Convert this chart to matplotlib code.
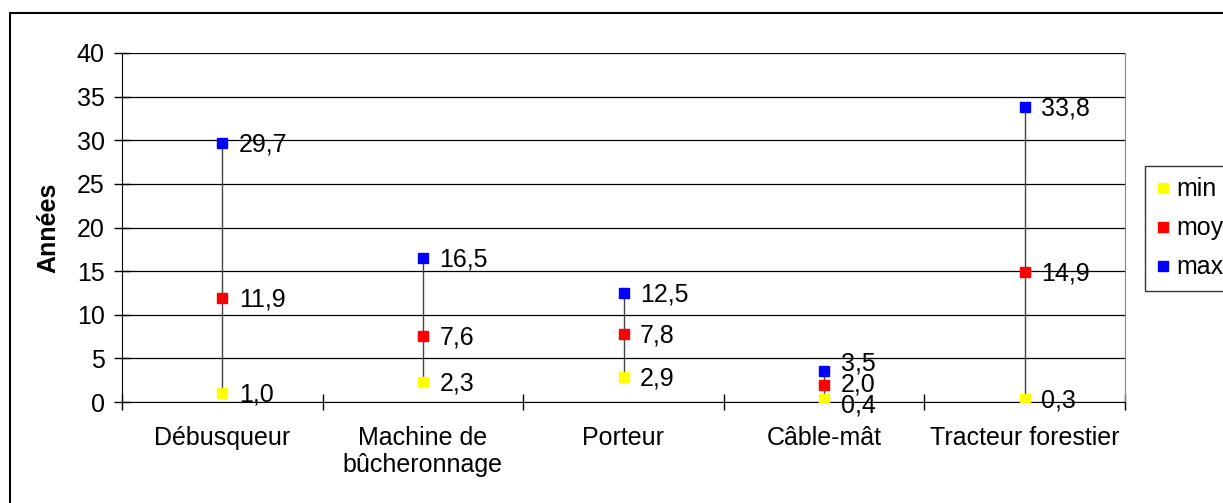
import matplotlib.pyplot as plt
from matplotlib.patches import Rectangle

plt.rcParams['font.family'] = ['Liberation Sans', 'DejaVu Sans']

categories = ['Débusqueur', 'Machine de\nbûcheronnage', 'Porteur', 'Câble-mât', 'Tracteur forestier']
val_min = [1.0, 2.3, 2.9, 0.4, 0.3]
val_moy = [11.9, 7.6, 7.8, 2.0, 14.9]
val_max = [29.7, 16.5, 12.5, 3.5, 33.8]

fs = 18

fig = plt.figure(figsize=(12.23, 5.03), dpi=100)
ax = fig.add_axes([122 / 1223, 1 - 402 / 503, 1003 / 1223, 349 / 503])

x = list(range(len(categories)))

# lignes haut-bas
ax.vlines(x, val_min, val_max, color='#444444', lw=1, zorder=2)

series = [('min', val_min, '#ffff00'), ('moy', val_moy, '#ff0000'), ('max', val_max, '#0000ff')]
for name, vals, col in series:
    ax.plot(x, vals, ls='none', marker='s', ms=7, color=col, mec=col, label=name, zorder=3)

# offsets des étiquettes (points)
offsets = {
    'min': [(12, -1), (12, -1), (12, -1), (12, -5), (12, -1)],
    'moy': [(12, -1), (12, -1), (12, -1), (12, 0), (12, -1)],
    'max': [(12, -1), (12, -1), (12, -1), (12, 6), (12, -1)],
}
for name, vals, col in series:
    for i, v in enumerate(vals):
        ax.annotate(f'{v:.1f}'.replace('.', ','), (x[i], v), xytext=offsets[name][i],
                    textcoords='offset points', va='center', ha='left', fontsize=fs, zorder=4)

ax.set_xlim(-0.5, len(categories) - 0.5)
ax.set_ylim(0, 40)
ax.set_yticks(range(0, 41, 5))
ax.set_xticks([i - 0.5 for i in range(len(categories) + 1)])
ax.set_xticklabels([])
ax.set_xticks(x, minor=True)
ax.set_xticklabels(categories, minor=True, fontsize=fs)
ax.tick_params(axis='x', which='minor', length=0, pad=17)
ax.tick_params(axis='x', which='major', direction='inout', length=11, width=1)
ax.tick_params(axis='y', direction='inout', length=11, width=1, labelsize=fs, pad=7)

ax.grid(axis='y', color='black', lw=0.9)
ax.set_axisbelow(True)
ax.spines['top'].set_visible(False)
ax.spines['right'].set_color('#888888')
ax.spines['left'].set_color('black')
ax.spines['bottom'].set_color('black')

ax.set_ylabel('Années', fontsize=fs, fontweight='bold', labelpad=12)

leg = fig.legend(loc='upper left', bbox_to_anchor=(1145 / 1223, 1 - 166 / 503), fontsize=fs,
                 frameon=True, fancybox=False, edgecolor='black', handlelength=0.5,
                 handletextpad=0.3, borderpad=0.45, labelspacing=0.6, markerscale=1,
                 borderaxespad=0)
leg.get_frame().set_linewidth(1)

# cadre extérieur
fig.patches.append(Rectangle((10 / 1223, -0.1), 1.2, 1 - 13 / 503 + 0.1, transform=fig.transFigure,
                             fill=False, edgecolor='black', lw=1.5))

fig.savefig('out.png', dpi=100)
